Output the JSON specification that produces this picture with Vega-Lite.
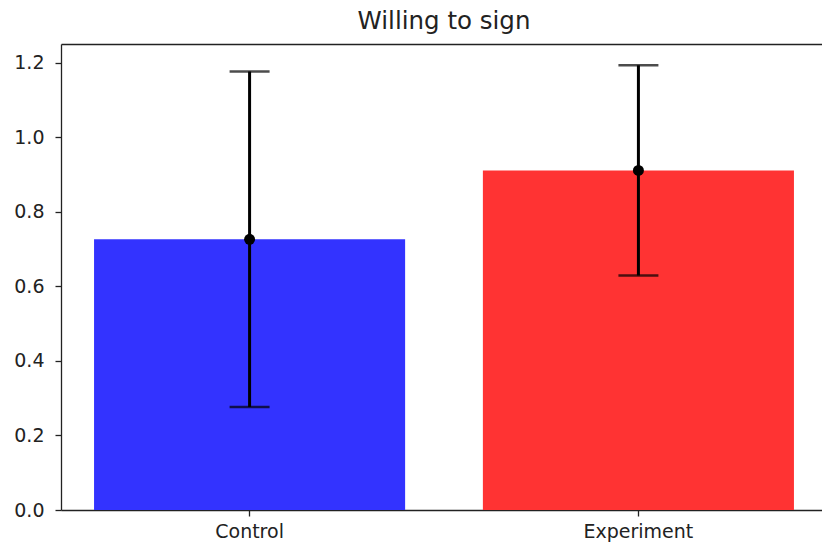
{
  "$schema": "https://vega.github.io/schema/vega-lite/v6.json",
  "width": 766,
  "height": 466,
  "autosize": {"type": "none"},
  "padding": {"left": 61, "top": 44, "right": -5, "bottom": 37},
  "background": "white",
  "title": {"text": "Willing to sign", "fontSize": 24.5, "font": "DejaVu Sans", "fontWeight": "normal", "color": "#222222", "offset": 10, "anchor": "middle"},
  "config": {
    "view": {"stroke": null},
    "axis": {
      "labelFont": "DejaVu Sans",
      "labelFontSize": 19,
      "labelColor": "#222222",
      "tickColor": "#222222",
      "domainColor": "#222222",
      "tickSize": 6,
      "tickWidth": 1.3,
      "domainWidth": 1.3,
      "grid": false,
      "title": null
    }
  },
  "data": {"values": [
    {"group": "Control", "mean": 0.726, "lower": 0.276, "upper": 1.176},
    {"group": "Experiment", "mean": 0.911, "lower": 0.629, "upper": 1.193}
  ]},
  "resolve": {"axis": {"x": "independent"}},
  "layer": [
    {
      "mark": {"type": "bar"},
      "encoding": {
        "x": {"field": "group", "type": "nominal", "sort": ["Control", "Experiment"],
          "scale": {"paddingInner": 0.2, "paddingOuter": 0.085},
          "axis": {"labelAngle": 0, "labelPadding": 6, "domain": true}},
        "y": {"field": "mean", "type": "quantitative",
          "scale": {"domain": [0, 1.25], "nice": false, "zero": true},
          "axis": {"values": [0, 0.2, 0.4, 0.6, 0.8, 1.0, 1.2], "format": ".1f", "labelPadding": 11, "domain": true}},
        "color": {"field": "group", "type": "nominal", "scale": {"domain": ["Control", "Experiment"], "range": ["#3333ff", "#ff3333"]}, "legend": null}
      }
    },
    {
      "mark": {"type": "rule", "color": "black", "strokeWidth": 3},
      "encoding": {
        "x": {"field": "group", "type": "nominal", "sort": ["Control", "Experiment"],
          "axis": {"orient": "top", "labels": false, "ticks": false, "domain": true}},
        "y": {"field": "lower", "type": "quantitative"},
        "y2": {"field": "upper"}
      }
    },
    {
      "mark": {"type": "tick", "color": "black", "thickness": 2.5, "size": 40, "orient": "horizontal"},
      "encoding": {
        "x": {"field": "group", "type": "nominal", "sort": ["Control", "Experiment"], "axis": null},
        "y": {"field": "upper", "type": "quantitative"}
      }
    },
    {
      "mark": {"type": "tick", "color": "black", "thickness": 2.5, "size": 40, "orient": "horizontal"},
      "encoding": {
        "x": {"field": "group", "type": "nominal", "sort": ["Control", "Experiment"], "axis": null},
        "y": {"field": "lower", "type": "quantitative"}
      }
    },
    {
      "mark": {"type": "point", "filled": true, "color": "black", "opacity": 1, "size": 120},
      "encoding": {
        "x": {"field": "group", "type": "nominal", "sort": ["Control", "Experiment"], "axis": null},
        "y": {"field": "mean", "type": "quantitative"}
      }
    }
  ]
}
